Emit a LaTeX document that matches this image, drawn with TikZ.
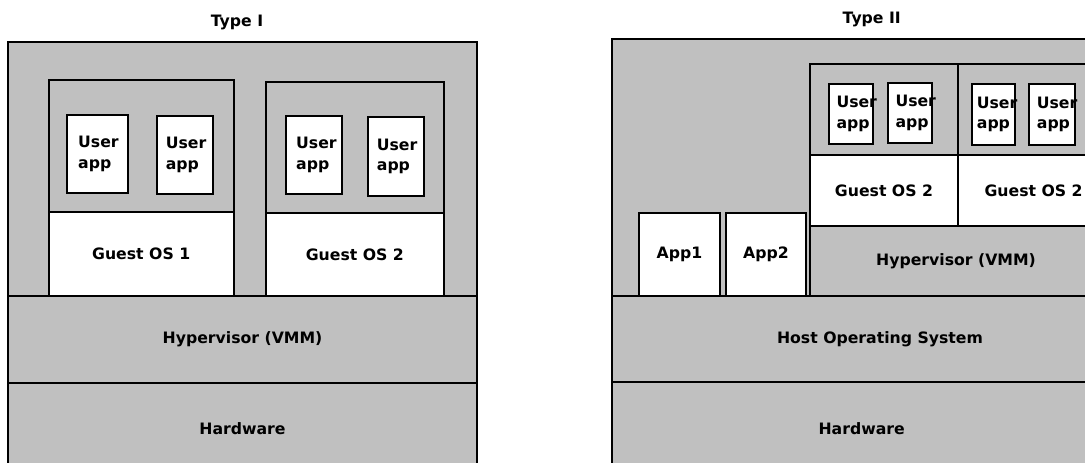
\documentclass[tikz,border=0pt]{standalone}
\usepackage{fontspec}
\setmainfont{DejaVu Sans}
\usetikzlibrary{positioning}
\definecolor{layergray}{RGB}{192,192,192}

\begin{document}
\begin{tikzpicture}[x=1pt, y=-1pt, every node/.style={font=\fontsize{15.7}{20.5}\selectfont\bfseries, inner sep=0pt},
  panel/.style={draw, line width=2pt, fill=layergray, anchor=north west},
  layer/.style={draw, line width=2pt, fill=layergray, anchor=north west},
  oslayer/.style={draw, line width=2pt, fill=white, anchor=north west},
  uapp/.style={draw, line width=2pt, fill=white, anchor=north west},
  uapptext/.style={anchor=west, align=left}]
\useasboundingbox (0,0) rectangle (1085,463);
\clip (0,0) rectangle (1085,463);

% Type I
\node[panel, minimum width=469, minimum height=433] (panA) at (7,41) {};
\node (titleA) at (237,22) {Type I};
\node[layer, minimum width=469, minimum height=86.7] (hypA) at (7,295) {Hypervisor (VMM)};
\node[layer, minimum width=469, minimum height=92] (hwA) at (7,381.7) {Hardware};
\node[layer, minimum width=185, minimum height=131.7] (gst1) at (47.7,79.3) {};
\node[oslayer, minimum width=185, minimum height=84] (gos1) at (47.7,211) {Guest OS 1};
\node[layer, minimum width=177.7, minimum height=131.6] (gst2) at (265,80.7) {};
\node[oslayer, minimum width=177.7, minimum height=82.7] (gos2) at (265,212.3) {Guest OS 2};
\node[uapp, minimum width=60.7, minimum height=78.3] (ua1) at (66,114) {};
\node[uapp, minimum width=56.3, minimum height=78.3] (ua2) at (155.7,115) {};
\node[uapp, minimum width=56.3, minimum height=77.4] (ua3) at (285,115.3) {};
\node[uapp, minimum width=56.6, minimum height=78.4] (ua4) at (366.7,116.3) {};
\node[uapptext, right=12pt of ua1.west] (ua1t) {User\\app};
\node[uapptext, right=10pt of ua2.west] (ua2t) {User\\app};
\node[uapptext, right=11pt of ua3.west] (ua3t) {User\\app};
\node[uapptext, right=10pt of ua4.west] (ua4t) {User\\app};

% Type II
\node[panel, minimum width=500, minimum height=436] (panB) at (610.7,38.3) {};
\node (titleB) at (871.7,19) {Type II};
\node[layer, minimum width=536.6, minimum height=86] (hostB) at (610.7,295) {Host Operating System};
\node[layer, minimum width=500, minimum height=93] (hwB) at (610.7,381) {Hardware};
\node[layer, minimum width=291.4, minimum height=69.7] (hypB) at (809.3,225.3) {Hypervisor (VMM)};
\node[layer, minimum width=147.4, minimum height=90.7] (gstA) at (809.3,63.3) {};
\node[oslayer, minimum width=147.4, minimum height=71.3] (gosA) at (809.3,154) {Guest OS 2};
\node[layer, minimum width=151.8, minimum height=90.7] (gstB) at (956.7,63.3) {};
\node[oslayer, minimum width=151.8, minimum height=71.3] (gosB) at (956.7,154) {Guest OS 2};
\node[oslayer, minimum width=81.6, minimum height=82.7] (app1) at (637.7,212.3) {App1};
\node[oslayer, minimum width=79.4, minimum height=82.7] (app2) at (725.3,212.3) {App2};
\node[uapp, minimum width=44, minimum height=60.6] (ub1) at (828.3,82.7) {};
\node[uapp, minimum width=43.7, minimum height=60.7] (ub2) at (887.3,81.7) {};
\node[uapp, minimum width=43.6, minimum height=60.7] (ub3) at (970.7,83.3) {};
\node[uapp, minimum width=46.6, minimum height=60.7] (ub4) at (1027.7,83.3) {};
\node[uapptext, right=8pt of ub1.west] (ub1t) {User\\app};
\node[uapptext, right=8pt of ub2.west] (ub2t) {User\\app};
\node[uapptext, right=6pt of ub3.west] (ub3t) {User\\app};
\node[uapptext, right=9pt of ub4.west] (ub4t) {User\\app};
\end{tikzpicture}
\end{document}
